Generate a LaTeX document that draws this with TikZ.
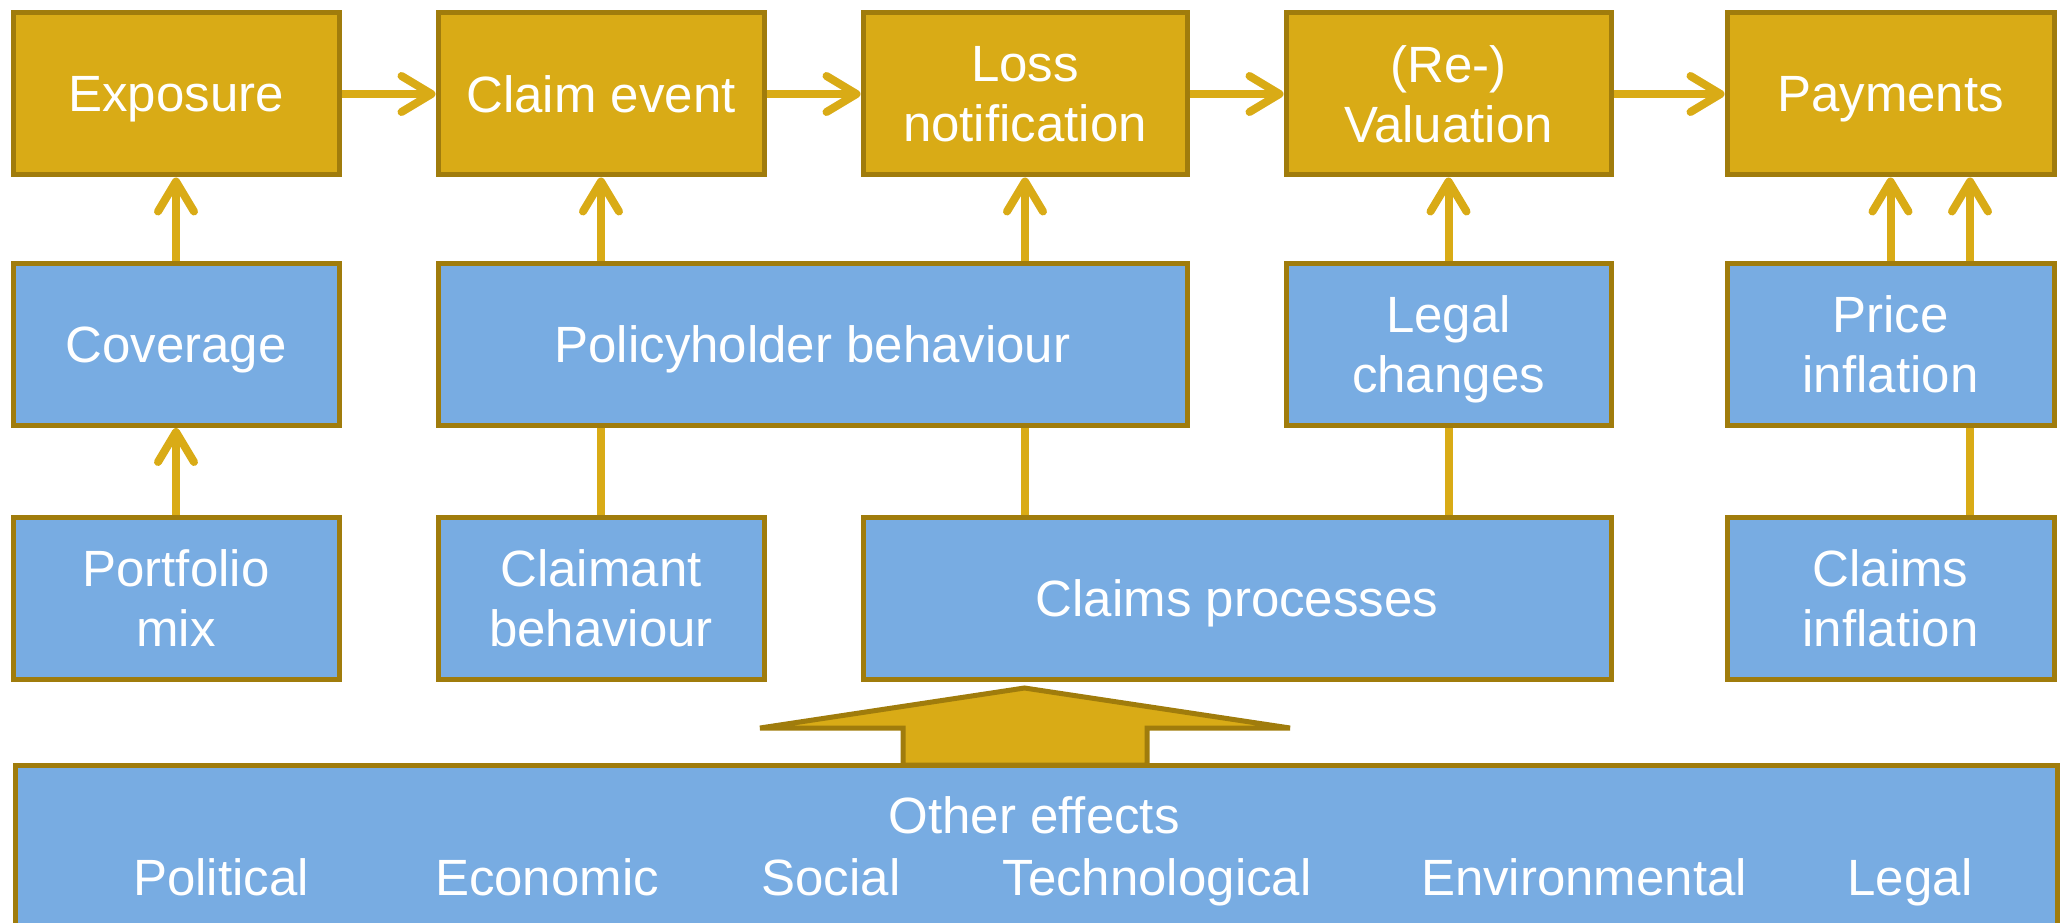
\documentclass[tikz,border=0pt]{standalone}
\usepackage{fontspec}
\setmainfont{Liberation Sans}
\usetikzlibrary{arrows.meta}
\definecolor{gold}{HTML}{D9AB16}
\definecolor{goldline}{HTML}{A07C0C}
\definecolor{bluefill}{HTML}{78ACE2}
\begin{document}
\begin{tikzpicture}[x=1pt,y=-1pt,
  box/.style={draw=goldline, line width=5pt, inner sep=0pt, text=white, align=center,
    font=\fontsize{51}{60}\selectfont, text depth=0pt, minimum height=162pt},
  goldbox/.style={box, fill=gold},
  bluebox/.style={box, fill=bluefill},
  conn/.style={draw=gold, line width=8pt},
  arr/.style={conn, -{Straight Barb[length=30pt,width=36pt,round]}},
  lbl/.style={text=white, font=\fontsize{51}{60}\selectfont, anchor=base, inner sep=0pt}]
\useasboundingbox (0,0) rectangle (2062,923);
\begin{scope}
\clip (0,0) rectangle (2062,923);
% row 1
\node[goldbox, minimum width=326pt] (expo) at (176,94) {Exposure};
\node[goldbox, minimum width=326pt] (claim) at (601,94) {Claim event};
\node[goldbox, minimum width=324pt] (loss) at (1025,94) {Loss\\notification};
\node[goldbox, minimum width=325pt] (val) at (1448.5,94) {(Re-)\\Valuation};
\node[goldbox, minimum width=327pt] (pay) at (1890.5,94) {Payments};
% row 2
\node[bluebox, minimum width=326pt] (cov) at (176,344.5) {Coverage};
\node[bluebox, minimum width=749pt] (policy) at (812.5,344.5) {Policyholder behaviour};
\node[bluebox, minimum width=325pt] (legal) at (1448.5,344.5) {Legal\\changes};
\node[bluebox, minimum width=327pt] (price) at (1890.5,344.5) {Price\\inflation};
% row 3
\node[bluebox, minimum width=326pt] (port) at (176,598.5) {Portfolio\\mix};
\node[bluebox, minimum width=326pt] (claimant) at (601,598.5) {Claimant\\behaviour};
\node[bluebox, minimum width=748pt] (procs) at (1237,598.5) {Claims processes};
\node[bluebox, minimum width=327pt] (cinf) at (1890.5,598.5) {Claims\\inflation};
% bottom
\node[bluebox, minimum width=2042pt, minimum height=230pt, anchor=north west] (other) at (13,763) {};
\node[lbl] (oe) at (1034,833) {Other effects};
\node[lbl] (pol) at (221,895) {Political};
\node[lbl] (eco) at (547,895) {Economic};
\node[lbl] (soc) at (831,895) {Social};
\node[lbl] (tech) at (1157,895) {Technological};
\node[lbl] (env) at (1584,895) {Environmental};
\node[lbl] (leg) at (1910,895) {Legal};
% big arrow
\draw[draw=goldline, fill=gold, line width=5pt, line join=miter]
  (1024.5,688) -- (1290,728) -- (1147,728) -- (1147,765) -- (903,765) -- (903,728) -- (760,728) -- cycle;
% horizontal arrows
\draw[arr] (expo.east) -- (claim.west);
\draw[arr] (claim.east) -- (loss.west);
\draw[arr] (loss.east) -- (val.west);
\draw[arr] (val.east) -- (pay.west);
% vertical arrows
\coordinate (px) at (1970,0);
\draw[arr] (cov.north) -- (expo.south);
\draw[arr] (port.north) -- (cov.south);
\draw[arr] (policy.north -| claim.south) -- (claim.south);
\draw[arr] (policy.north -| loss.south) -- (loss.south);
\draw[arr] (legal.north) -- (val.south);
\draw[arr] (price.north) -- (pay.south);
\draw[arr] (price.north -| px) -- (pay.south -| px);
% plain connectors
\draw[conn] (claimant.north) -- (claimant.north |- policy.south);
\draw[conn] (procs.north -| loss.south) -- (policy.south -| loss.south);
\draw[conn] (procs.north -| legal.south) -- (legal.south);
\draw[conn] (cinf.north -| px) -- (price.south -| px);
\end{scope}
\end{tikzpicture}
\end{document}
